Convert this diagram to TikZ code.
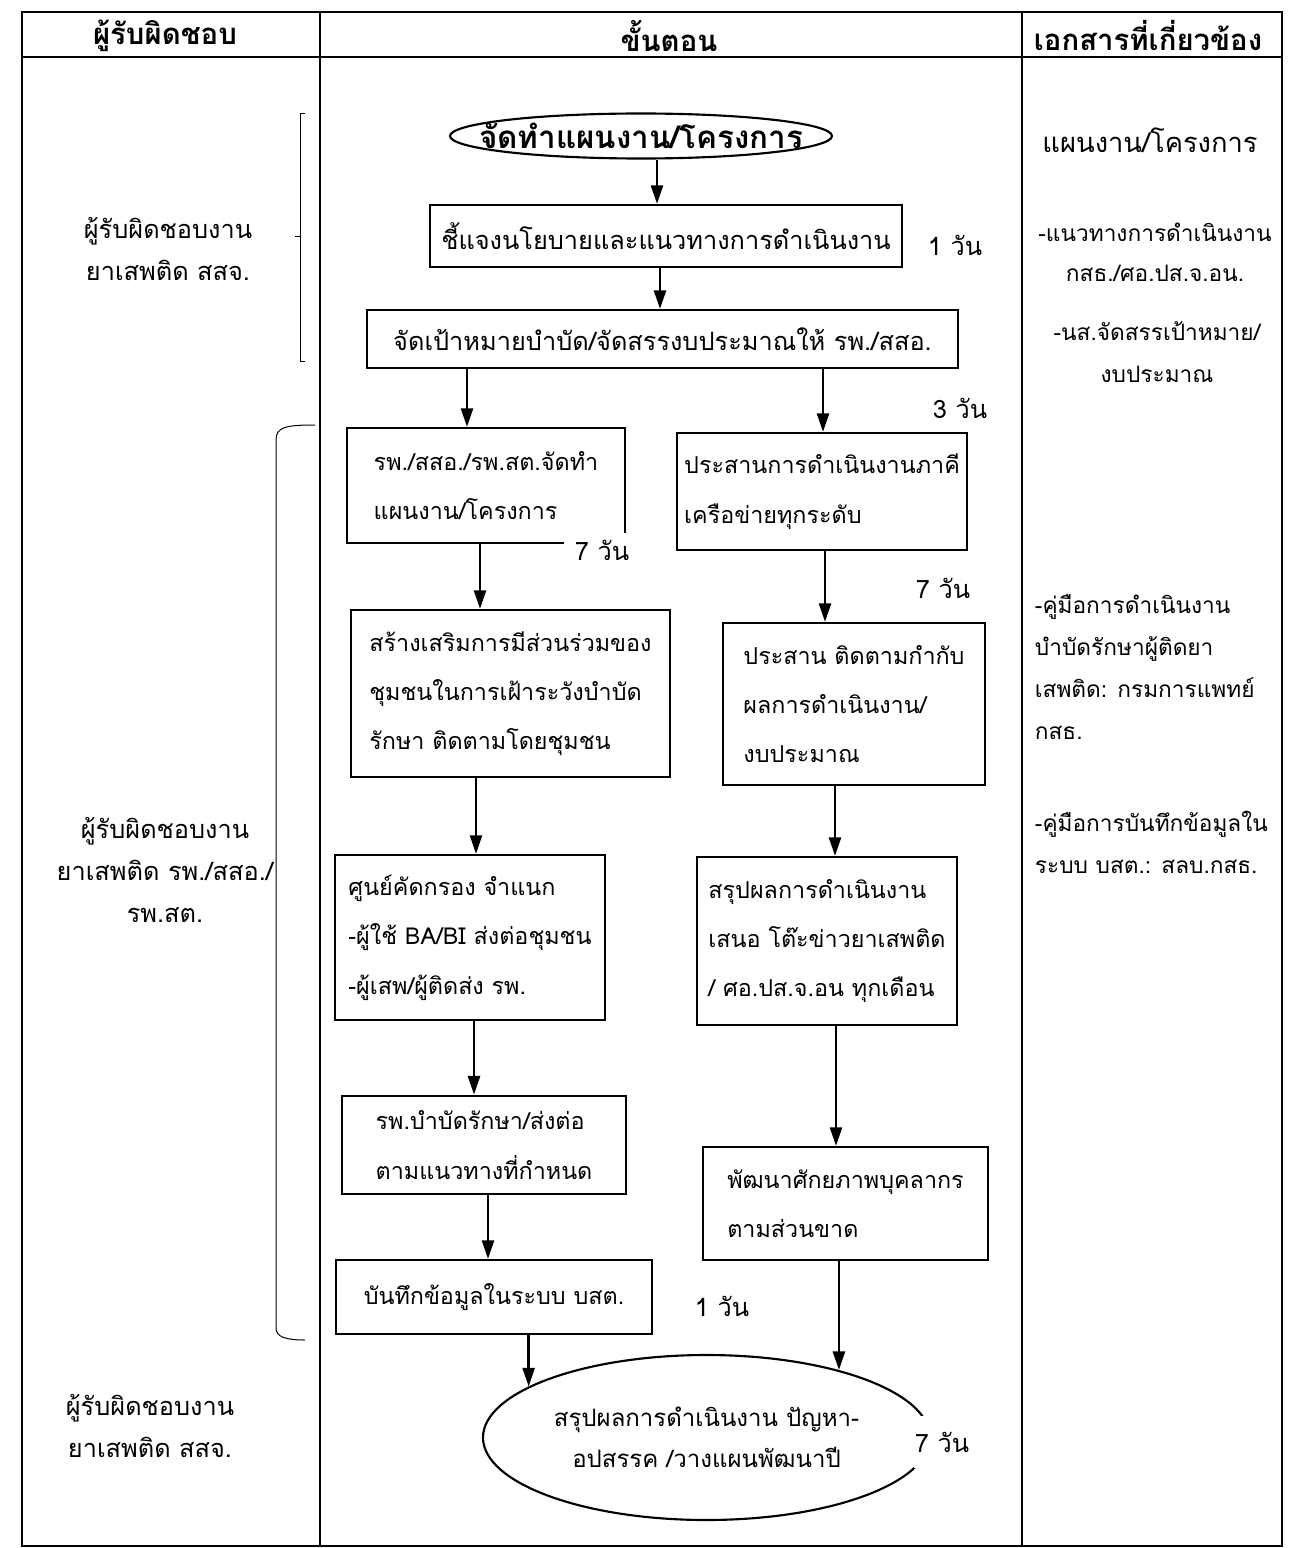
\documentclass[tikz,border=0pt]{standalone}
\usepackage{fontspec}
\newfontfamily\thaifont[Script=Thai]{Loma}
\usetikzlibrary{shapes.geometric,arrows.meta}
\tikzset{every picture/.style={line width=0.75pt}}
\tikzset{
  stepbox/.style={draw, line width=1.6pt, rectangle, inner sep=0pt, align=left,
    font=\thaifont\fontsize{17.5}{37}\selectfont},
  bigbox/.style={stepbox, font=\thaifont\fontsize{19}{23}\selectfont},
  startstop/.style={draw, line width=1.6pt, ellipse, inner sep=0pt, align=center,
    font=\thaifont\fontsize{18}{31}\selectfont},
  flow/.style={line width=2pt, -{Triangle[length=14pt,width=9pt]}},
  headtext/.style={font=\thaifont\bfseries\fontsize{22}{26}\selectfont},
  roletext/.style={align=center, font=\thaifont\fontsize{19}{31.5}\selectfont},
  doctext/.style={align=left, font=\thaifont\fontsize{17}{31.5}\selectfont},
  daytext/.style={font=\thaifont\fontsize{19}{23}\selectfont, inner sep=1pt}
}
\begin{document}
\begin{tikzpicture}[x=0.75pt,y=0.75pt,yscale=-1,xscale=1]
\useasboundingbox (0,0) rectangle (1295,1548);

%Table frame
\draw [line width=1pt] (22,12) rectangle (1282,1546);
\draw [line width=1pt] (22,57) -- (1282,57);
\draw [line width=1pt] (320,12) -- (320,1546);
\draw [line width=1pt] (1022,12) -- (1022,1546);

%Header
\node [headtext] (hrole) at (165,36) {ผู้รับผิดชอบ};
\node [headtext] (hstep) at (669,36) {ขั้นตอน};
\node [headtext] (hdoc) at (1148,36) {เอกสารที่เกี่ยวข้อง};

%Brackets
\draw (305,114) -- (300,114) -- (300,361) -- (305,361);
\draw (300,237) -- (295,237);
\draw (315,425) .. controls (286,425) and (276,427) .. (276,440) -- (276,1328) .. controls (276,1337) and (286,1340) .. (305,1340);

%Responsible
\node [roletext] (role1) at (168,249) {ผู้รับผิดชอบงาน\\ยาเสพติด สสจ.};
\node [roletext] (role2) at (165,870) {ผู้รับผิดชอบงาน\\ยาเสพติด รพ./สสอ./\\รพ.สต.};
\node [roletext] (role3) at (150,1426) {ผู้รับผิดชอบงาน\\ยาเสพติด สสจ.};

%Documents
\node [roletext, font=\thaifont\fontsize{20.5}{25}\selectfont] (doc1) at (1150,140) {แผนงาน/โครงการ};
\node [doctext, align=center, font=\thaifont\fontsize{17}{30}\selectfont] (doc2) at (1155,252) {-แนวทางการดำเนินงาน\\กสธ./ศอ.ปส.จ.อน.};
\node [doctext, align=center] (doc3) at (1157,352) {-นส.จัดสรรเป้าหมาย/\\งบประมาณ};
\node [doctext, anchor=west] (doc4) at (1030,667) {-คู่มือการดำเนินงาน\\บำบัดรักษาผู้ติดยา\\เสพติด: กรมการแพทย์\\กสธ.};
\node [doctext, anchor=west] (doc5) at (1030,842) {-คู่มือการบันทึกข้อมูลใน\\ระบบ บสต.: สลบ.กสธ.};

%Shape: Ellipse
\node [startstop, minimum width=286.5pt, minimum height=33.75pt,
  label={[font=\thaifont\bfseries\fontsize{23.5}{27}\selectfont]center:จัดทำแผนงาน/โครงการ}] (e1) at (641,136) {};
%Shape: Rectangle
\node [bigbox, minimum width=354pt, minimum height=46.5pt] (b2) at (666,236) {ชี้แจงนโยบายและแนวทางการดำเนินงาน};
\node [bigbox, minimum width=443.25pt, minimum height=43.5pt] (b3) at (662.5,339) {จัดเป้าหมายบำบัด/จัดสรรงบประมาณให้ รพ./สสอ.};
\node [stepbox, minimum width=208.5pt, minimum height=86.25pt] (b4) at (486,485.5) {รพ./สสอ./รพ.สต.จัดทำ\\แผนงาน/โครงการ};
\node [stepbox, minimum width=217.5pt, minimum height=87.75pt] (b5) at (822,491.5) {ประสานการดำเนินงานภาคี\\เครือข่ายทุกระดับ};
\node [stepbox, minimum width=239.25pt, minimum height=125.25pt] (b6) at (510.5,693.5) {สร้างเสริมการมีส่วนร่วมของ\\ชุมชนในการเฝ้าระวังบำบัด\\รักษา ติดตามโดยชุมชน};
\node [stepbox, minimum width=196.5pt, minimum height=121.5pt] (b7) at (854,704) {ประสาน ติดตามกำกับ\\ผลการดำเนินงาน/\\งบประมาณ};
\node [stepbox, minimum width=202.5pt, minimum height=123.75pt] (b8) at (470,937.5) {ศูนย์คัดกรอง จำแนก\\-ผู้ใช้ BA/BI ส่งต่อชุมชน\\-ผู้เสพ/ผู้ติดส่ง รพ.};
\node [stepbox, minimum width=195pt, minimum height=126pt] (b9) at (827,941) {สรุปผลการดำเนินงาน\\เสนอ โต๊ะข่าวยาเสพติด\\/ ศอ.ปส.จ.อน ทุกเดือน};
\node [stepbox, minimum width=213pt, minimum height=74pt] (b10) at (484,1145) {รพ.บำบัดรักษา/ส่งต่อ\\ตามแนวทางที่กำหนด};
\node [stepbox, minimum width=213.75pt, minimum height=84.75pt] (b11) at (845.5,1203.5) {พัฒนาศักยภาพบุคลากร\\ตามส่วนขาด};
\node [stepbox, minimum width=237pt, minimum height=55.5pt] (b12) at (494,1297) {บันทึกข้อมูลในระบบ บสต.};
%Shape: Ellipse
\node [startstop, minimum width=335.25pt, minimum height=123.75pt] (e2) at (706.5,1437.5) {สรุปผลการดำเนินงาน ปัญหา-\\อปสรรค /วางแผนพัฒนาปี};

%Straight Lines
\draw [flow] (e1.south -| 657,0) -- (b2.north -| 657,0);
\draw [flow] (b2.south -| 660,0) -- (b3.north -| 660,0);
\draw [flow] (b3.south -| 467,0) -- (b4.north -| 467,0);
\draw [flow] (b3.south -| 823,0) -- (b5.north -| 823,0);
\draw [flow] (b4.south -| 480,0) -- (b6.north -| 480,0);
\draw [flow] (b5.south -| 825,0) -- (b7.north -| 825,0);
\draw [flow] (b6.south -| 476,0) -- (b8.north -| 476,0);
\draw [flow] (b7.south -| 835,0) -- (b9.north -| 835,0);
\draw [flow] (b8.south -| 474,0) -- (b10.north -| 474,0);
\draw [flow] (b9.south -| 836,0) -- (b11.north -| 836,0);
\draw [flow] (b10.south -| 488,0) -- (b12.north -| 488,0);
\draw [flow] (b12.south -| e2.164) -- (e2.164);
\draw [flow] (b11.south -| e2.27) -- (e2.27);

%Durations
\node [daytext] (d1) at (955,245) {1 วัน};
\node [daytext] (d2) at (960,408) {3 วัน};
\node [daytext, fill=white, inner xsep=8pt, inner ysep=5pt] (d3) at (602,550) {7 วัน};
\node [daytext] (d4) at (943,588) {7 วัน};
\node [daytext] (d5) at (722,1306) {1 วัน};
\node [daytext, fill=white, inner ysep=12pt] (d6) at (942,1442) {7 วัน};

\end{tikzpicture}
\end{document}
